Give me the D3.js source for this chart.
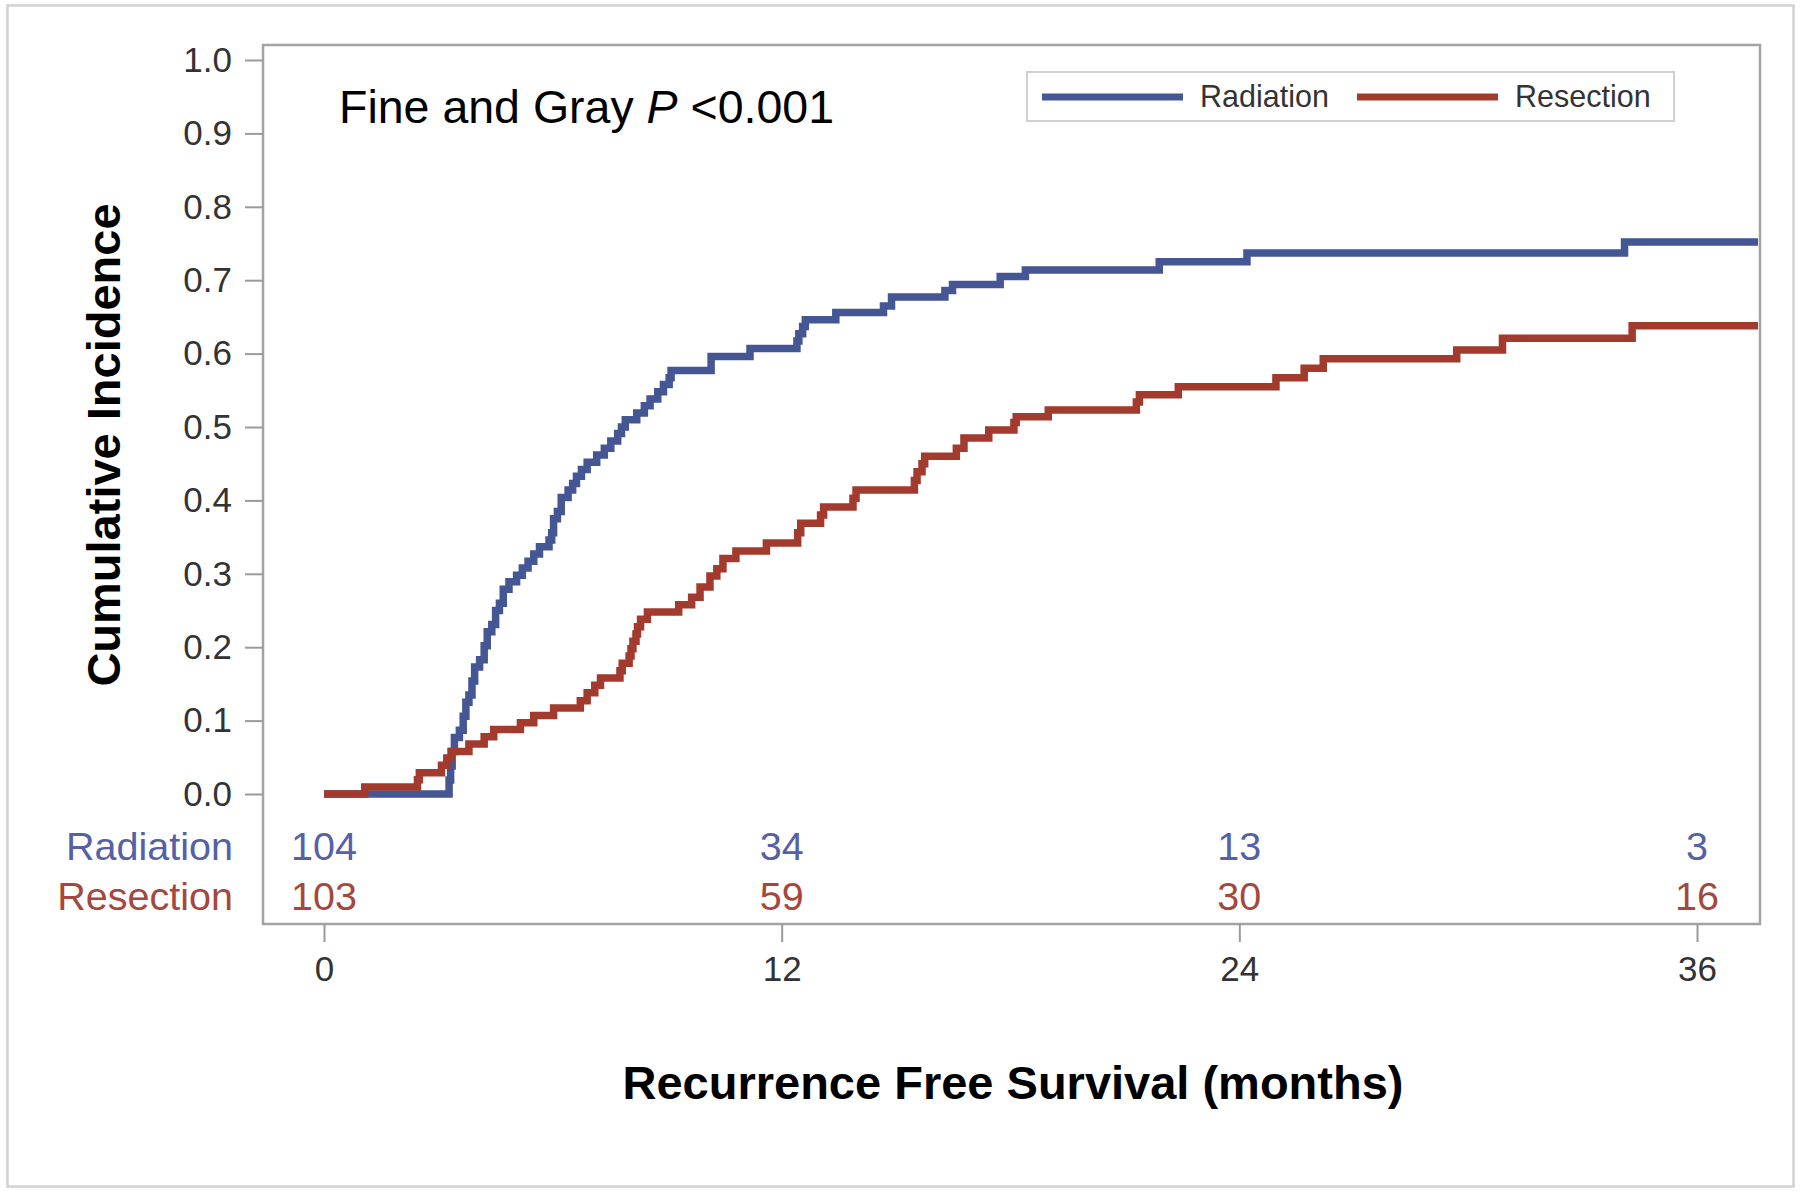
<!DOCTYPE html>
<html>
<head>
<meta charset="utf-8">
<script src="https://cdn.jsdelivr.net/npm/d3@7"></script>
<style>
  html, body { margin: 0; padding: 0; background: #fff; }
  svg { display: block; }
  text { font-family: "Liberation Sans", Arial, Helvetica, sans-serif; }
</style>
</head>
<body>
<div id="chart"></div>
<script>
// ---------------- DATA ----------------
const seriesNames = ["Radiation", "Resection"];
const seriesColors = ["#445694", "#A23A2E"];
const riskLabelColors = ["#5560a5", "#a5473d"];

// step-function events: time (months) and cumulative incidence after the step
const radiationTime = [0, 3.28, 3.32, 3.36, 3.42, 3.55, 3.65, 3.72, 3.80, 3.88, 3.95, 4.08, 4.20, 4.28, 4.40, 4.50, 4.60, 4.70, 4.85, 5.05, 5.20, 5.35, 5.50, 5.65, 5.90, 5.97, 6.02, 6.12, 6.22, 6.40, 6.52, 6.62, 6.75, 6.90, 7.15, 7.35, 7.52, 7.70, 7.80, 7.90, 8.20, 8.40, 8.55, 8.75, 8.90, 9.05, 9.10, 10.15, 11.17, 12.40, 12.45, 12.55, 12.62, 13.42, 14.67, 14.88, 16.28, 16.48, 17.73, 18.39, 21.9, 24.2, 34.1, 37.6];
const radiationCI   = [0, 0.019, 0.038, 0.058, 0.077, 0.087, 0.106, 0.125, 0.135, 0.154, 0.173, 0.183, 0.202, 0.221, 0.231, 0.250, 0.260, 0.279, 0.289, 0.298, 0.308, 0.317, 0.327, 0.337, 0.346, 0.356, 0.375, 0.385, 0.404, 0.414, 0.423, 0.433, 0.442, 0.452, 0.462, 0.471, 0.481, 0.491, 0.500, 0.510, 0.519, 0.529, 0.538, 0.548, 0.558, 0.567, 0.577, 0.596, 0.607, 0.617, 0.627, 0.637, 0.646, 0.656, 0.665, 0.677, 0.686, 0.694, 0.705, 0.714, 0.725, 0.737, 0.752, 0.752];

const resectionTime = [0, 1.07, 2.45, 2.50, 3.08, 3.22, 3.33, 3.80, 4.20, 4.45, 5.15, 5.50, 6.02, 6.72, 6.90, 7.10, 7.25, 7.76, 7.82, 8.00, 8.05, 8.10, 8.18, 8.22, 8.30, 8.48, 9.30, 9.64, 9.86, 10.12, 10.30, 10.46, 10.80, 11.60, 12.42, 12.50, 13.02, 13.10, 13.87, 13.95, 15.48, 15.55, 15.68, 15.75, 16.58, 16.78, 17.43, 18.09, 18.15, 18.99, 21.30, 21.38, 22.40, 24.96, 25.70, 26.20, 29.70, 30.90, 34.30, 37.6];
const resectionCI   = [0, 0.0097, 0.0194, 0.029, 0.039, 0.049, 0.058, 0.068, 0.078, 0.088, 0.097, 0.107, 0.117, 0.127, 0.138, 0.148, 0.158, 0.168, 0.178, 0.188, 0.198, 0.208, 0.218, 0.228, 0.238, 0.248, 0.258, 0.268, 0.282, 0.297, 0.307, 0.321, 0.331, 0.342, 0.356, 0.369, 0.380, 0.391, 0.403, 0.414, 0.427, 0.439, 0.450, 0.460, 0.471, 0.485, 0.496, 0.506, 0.514, 0.523, 0.534, 0.544, 0.555, 0.567, 0.580, 0.593, 0.605, 0.621, 0.638, 0.638];

const xTicks = [0, 12, 24, 36];
const yTicks = [0, 0.1, 0.2, 0.3, 0.4, 0.5, 0.6, 0.7, 0.8, 0.9, 1.0];
const radiationAtRisk = [104, 34, 13, 3];
const resectionAtRisk = [103, 59, 30, 16];

const xTitle = "Recurrence Free Survival (months)";
const yTitle = "Cumulative Incidence";

// ---------------- LAYOUT ----------------
const W = 1800, H = 1192;
const frame = { left: 263, top: 45, right: 1760, bottom: 924 };

const svg = d3.select("#chart").append("svg").attr("width", W).attr("height", H);

// outer border
svg.append("rect").attr("x", 7.5).attr("y", 5.5).attr("width", 1786).attr("height", 1181)
  .attr("fill", "#fff").attr("stroke", "#d2d2d2").attr("stroke-width", 2.5);

const x = d3.scaleLinear().domain([0, 36]).range([324, 1697]);
const y = d3.scaleLinear().domain([0, 1]).range([794, 60]);

// plot frame
svg.append("rect")
  .attr("x", frame.left).attr("y", frame.top)
  .attr("width", frame.right - frame.left).attr("height", frame.bottom - frame.top)
  .attr("fill", "none").attr("stroke", "#a3a3a3").attr("stroke-width", 2.5);

// y axis
const yAxis = d3.axisLeft(y).tickValues(yTicks).tickFormat(d3.format(".1f")).tickSize(18).tickPadding(13);
const gy = svg.append("g").attr("transform", `translate(${frame.left},0)`).call(yAxis);
gy.select(".domain").remove();
gy.selectAll(".tick line").attr("stroke", "#9a9a9a").attr("stroke-width", 2);
gy.selectAll(".tick text").attr("font-size", 35).attr("fill", "#333")
  .style("font-family", '"Liberation Sans", Arial, sans-serif');

// x axis
const xAxis = d3.axisBottom(x).tickValues(xTicks).tickFormat(d3.format("d")).tickSize(18).tickPadding(14);
const gx = svg.append("g").attr("transform", `translate(0,${frame.bottom})`).call(xAxis);
gx.select(".domain").remove();
gx.selectAll(".tick line").attr("stroke", "#9a9a9a").attr("stroke-width", 2);
gx.selectAll(".tick text").attr("font-size", 35).attr("fill", "#333")
  .style("font-family", '"Liberation Sans", Arial, sans-serif');

// curves
const line = d3.line().x(d => x(d[0])).y(d => y(d[1])).curve(d3.curveStepAfter);
const radData = radiationTime.map((t, i) => [t, radiationCI[i]]);
const resData = resectionTime.map((t, i) => [t, resectionCI[i]]);
[[radData, 0], [resData, 1]].forEach(([data, i]) => {
  svg.append("path").datum(data).attr("d", line)
    .attr("fill", "none").attr("stroke", seriesColors[i]).attr("stroke-width", 7.5)
    .attr("stroke-linejoin", "miter").attr("stroke-linecap", "butt");
});

// annotation
const ann = svg.append("text").attr("x", 339).attr("y", 123).attr("font-size", 46.5).attr("fill", "#000");
ann.append("tspan").text("Fine and Gray ");
ann.append("tspan").attr("font-style", "italic").text("P");
ann.append("tspan").text(" <0.001");

// legend
const lg = svg.append("g");
lg.append("rect").attr("x", 1027).attr("y", 72).attr("width", 647).attr("height", 49)
  .attr("fill", "#fff").attr("stroke", "#d0d0d0").attr("stroke-width", 2);
const legendItems = [
  { x1: 1042, x2: 1183, tx: 1200 },
  { x1: 1357, x2: 1498, tx: 1515 }
];
legendItems.forEach((it, i) => {
  lg.append("line").attr("x1", it.x1).attr("x2", it.x2).attr("y1", 97).attr("y2", 97)
    .attr("stroke", seriesColors[i]).attr("stroke-width", 7);
  lg.append("text").attr("x", it.tx).attr("y", 107).attr("font-size", 30.5).attr("fill", "#333")
    .text(seriesNames[i]);
});

// at-risk table
const riskRows = [radiationAtRisk, resectionAtRisk];
const rowY = [846, 896];
riskRows.forEach((vals, r) => {
  svg.append("text").attr("x", 233).attr("y", rowY[r] + 14).attr("text-anchor", "end")
    .attr("font-size", 39.5).attr("fill", riskLabelColors[r]).text(seriesNames[r]);
  svg.selectAll(null).data(vals).enter().append("text")
    .attr("x", (d, i) => x(xTicks[i])).attr("y", rowY[r] + 14)
    .attr("text-anchor", "middle").attr("font-size", 39.5).attr("fill", riskLabelColors[r])
    .text(d => d);
});

// axis titles
svg.append("text").attr("x", 1013).attr("y", 1099).attr("text-anchor", "middle")
  .attr("font-size", 47).attr("font-weight", "bold").attr("fill", "#000").text(xTitle);
svg.append("text").attr("transform", "translate(120,445) rotate(-90)").attr("text-anchor", "middle")
  .attr("font-size", 47).attr("font-weight", "bold").attr("fill", "#000").text(yTitle);
</script>
</body>
</html>
